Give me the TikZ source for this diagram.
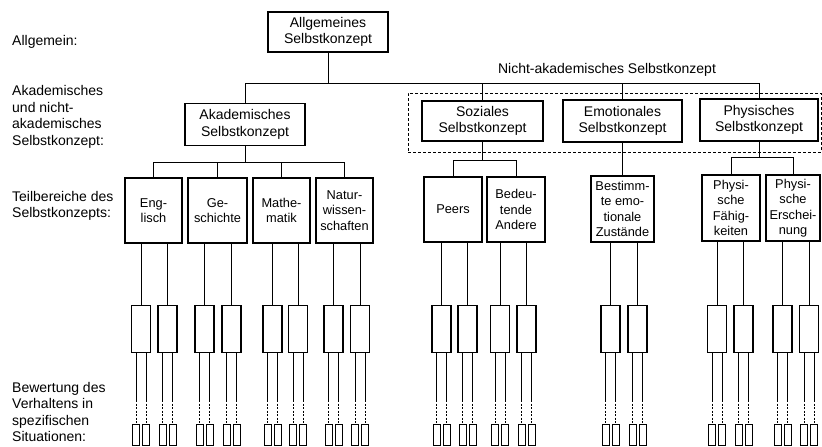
\documentclass[tikz,border=0pt]{standalone}
\usepackage{fontspec}
\setmainfont{Liberation Sans}
\begin{document}
\begin{tikzpicture}[x=1pt,y=-1pt,
  box/.style={draw, line width=1.1pt, inner sep=0pt, align=center, font=\fontsize{14}{16.5}\selectfont},
  subbox/.style={draw, line width=1.1pt, inner sep=0pt, align=center, font=\fontsize{12.8}{15.5}\selectfont},
  midbox/.style={draw, line width=1.1pt, inner sep=0pt, minimum width=19pt, minimum height=47pt},
  smallbox/.style={draw, line width=0.9pt, inner sep=0pt, minimum width=7pt, minimum height=21pt},
  frame/.style={draw, line width=0.9pt, dash pattern=on 3pt off 2pt, inner sep=0pt},
  conn/.style={line width=1pt},
  dconn/.style={line width=1pt, dash pattern=on 2pt off 1.5pt},
  lbl/.style={anchor=west, align=left, inner sep=0pt, font=\fontsize{14}{16.5}\selectfont}]
\useasboundingbox[fill=white] (0,0) rectangle (822,447);

% left labels
\node[lbl] (l1) at (12,42) {Allgemein:};
\node[lbl] (l2) at (12,117) {Akademisches\\und nicht-\\akademisches\\Selbstkonzept:};
\node[lbl] (l3) at (12,206) {Teilbereiche des\\Selbstkonzepts:};
\node[lbl] (l4) at (12,412) {Bewertung des\\Verhaltens in\\spezifischen\\Situationen:};

% dashed frame
\node[frame, minimum width=413pt, minimum height=59pt] (nakframe) at (614.5,122.5) {};
\node[inner sep=0pt, font=\fontsize{14}{16.5}\selectfont] (naklbl) at (607,70) {Nicht-akademisches Selbstkonzept};

% main boxes
\node[box, minimum width=120pt, minimum height=40pt] (allg) at (328,32) {Allgemeines\\Selbstkonzept};
\node[box, minimum width=120pt, minimum height=42pt] (akad) at (245,124.5) {Akademisches\\Selbstkonzept};
\node[box, minimum width=121pt, minimum height=40pt] (soz) at (482.5,121) {Soziales\\Selbstkonzept};
\node[box, minimum width=119pt, minimum height=42pt] (emo) at (622.5,121) {Emotionales\\Selbstkonzept};
\node[box, minimum width=118pt, minimum height=42pt] (phys) at (759,120) {Physisches\\Selbstkonzept};

% subdomain boxes
\node[subbox, minimum width=57pt, minimum height=65pt] (eng) at (153.5,210.5) {Eng-\\lisch};
\node[subbox, minimum width=59pt, minimum height=65pt] (ges) at (217.5,210.5) {Ge-\\schichte};
\node[subbox, minimum width=57pt, minimum height=65pt] (mat) at (281.5,210.5) {Mathe-\\matik};
\node[subbox, minimum width=57pt, minimum height=65pt] (nat) at (344.5,210.5) {Natur-\\wissen-\\schaften};
\node[subbox, minimum width=58pt, minimum height=65pt] (peers) at (453,209.5) {Peers};
\node[subbox, minimum width=58pt, minimum height=65pt] (bed) at (516,209.5) {Bedeu-\\tende\\Andere};
\node[subbox, minimum width=63pt, minimum height=66pt] (best) at (622.5,209) {Bestimm-\\te emo-\\tionale\\Zustände};
\node[subbox, minimum width=58pt, minimum height=66pt] (pf) at (731,208) {Physi-\\sche\\Fähig-\\keiten};
\node[subbox, minimum width=54pt, minimum height=66pt] (pe) at (793,208) {Physi-\\sche\\Erschei-\\nung};

% tree connectors
\coordinate (bus1) at (0,83);
\draw[conn] (allg.south) -- (allg.south |- bus1);
\draw[conn] (akad.north) -- (akad.north |- bus1) -- (phys.north |- bus1) -- (phys.north);
\draw[conn] (soz.north) -- (soz.north |- bus1);
\draw[conn] (emo.north) -- (emo.north |- bus1);

\coordinate (bus2) at (0,162);
\draw[conn] (akad.south) -- (akad.south |- bus2);
\draw[conn] (eng.north) -- (eng.north |- bus2) -- (nat.north |- bus2) -- (nat.north);
\draw[conn] (ges.north) -- (ges.north |- bus2);
\draw[conn] (mat.north) -- (mat.north |- bus2);

\coordinate (bus3) at (0,160);
\draw[conn] (soz.south) -- (soz.south |- bus3);
\draw[conn] (peers.north) -- (peers.north |- bus3) -- (bed.north |- bus3) -- (bed.north);

\draw[conn] (emo.south) -- (best.north);

\coordinate (bus4) at (0,157);
\draw[conn] (phys.south) -- (phys.south |- bus4);
\draw[conn] (pf.north) -- (pf.north |- bus4) -- (pe.north |- bus4) -- (pe.north);

% specific situations
\foreach \n/\x/\p in {m1/141/eng, m2/167.5/eng, m3/204.5/ges, m4/231.5/ges,
  m5/272.5/mat, m6/298/mat, m7/333.5/nat, m8/360/nat,
  m9/441.5/peers, m10/467.5/peers, m11/500/bed, m12/526.5/bed,
  m13/610.5/best, m14/637.5/best, m15/717/pf, m16/743.5/pf,
  m17/782.5/pe, m18/809/pe} {
  \node[midbox] (\n) at (\x,329) {};
  \draw[conn] (\n.north) -- (\n.north |- \p.south);
  \foreach \s/\d in {a/-5,b/5} {
    \node[smallbox] (\n\s) at ({\x+(\d)},434.5) {};
    \coordinate (\n\s t) at ({\x+(\d)},400);
    \draw[conn] (\n.south -| \n\s.north) -- (\n\s t);
    \draw[dconn] (\n\s t) -- (\n\s.north);
  }
}
\end{tikzpicture}
\end{document}
